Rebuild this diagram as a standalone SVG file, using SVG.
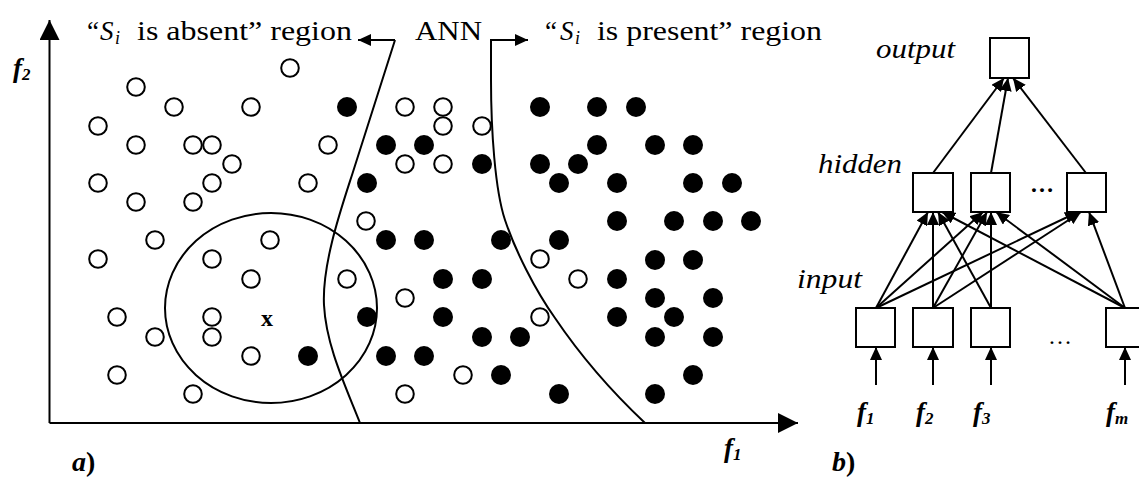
<svg xmlns="http://www.w3.org/2000/svg" width="1139" height="477" viewBox="0 0 1139 477">
<style>
text{font-family:"Liberation Serif","Times New Roman",serif;fill:#000}
.it{font-style:italic}
.bi{font-style:italic;font-weight:bold}
.o{fill:#fff;stroke:#000;stroke-width:2}
.f{fill:#000}
.ln{stroke:#000;stroke-width:2;fill:none}
.box{fill:#fff;stroke:#000;stroke-width:2}
</style>
<defs>
<marker id="ah" viewBox="0 0 13 12" refX="13" refY="6" markerWidth="13" markerHeight="12" markerUnits="userSpaceOnUse" orient="auto"><path d="M0,0 L13,6 L0,12 z" fill="#000"/></marker>
<marker id="big" viewBox="0 0 20 20" refX="20" refY="10" markerWidth="20" markerHeight="20" markerUnits="userSpaceOnUse" orient="auto"><path d="M0,0 L20,10 L0,20 z" fill="#000"/></marker>
</defs>
<rect width="1139" height="477" fill="#fff"/>

<g id="axes">
<line class="ln" x1="49.5" y1="423" x2="49.5" y2="20" marker-end="url(#big)"/>
<line class="ln" x1="49.5" y1="423" x2="798" y2="423" marker-end="url(#big)"/>
<text class="bi" x="13" y="77" font-size="27">f<tspan font-size="17" dy="3">2</tspan></text>
<text class="bi" x="724" y="457" font-size="27">f<tspan font-size="17" dy="3">1</tspan></text>
<text class="bi" x="72" y="471" font-size="28">a<tspan font-style="normal">)</tspan></text>
</g>

<g id="open-dots">
<circle class="o" r="8.8" cx="290" cy="68"/>
<circle class="o" r="8.8" cx="136" cy="87"/>
<circle class="o" r="8.8" cx="174" cy="107"/>
<circle class="o" r="8.8" cx="251" cy="107"/>
<circle class="o" r="8.8" cx="98" cy="126"/>
<circle class="o" r="8.8" cx="136" cy="145"/>
<circle class="o" r="8.8" cx="193" cy="145"/>
<circle class="o" r="8.8" cx="212" cy="145"/>
<circle class="o" r="8.8" cx="328" cy="145"/>
<circle class="o" r="8.8" cx="232" cy="164"/>
<circle class="o" r="8.8" cx="98" cy="183"/>
<circle class="o" r="8.8" cx="212" cy="183"/>
<circle class="o" r="8.8" cx="308" cy="183"/>
<circle class="o" r="8.8" cx="136" cy="202"/>
<circle class="o" r="8.8" cx="193" cy="202"/>
<circle class="o" r="8.8" cx="366" cy="221"/>
<circle class="o" r="8.8" cx="155" cy="240"/>
<circle class="o" r="8.8" cx="270" cy="240"/>
<circle class="o" r="8.8" cx="98" cy="259"/>
<circle class="o" r="8.8" cx="212" cy="259"/>
<circle class="o" r="8.8" cx="251" cy="279"/>
<circle class="o" r="8.8" cx="347" cy="279"/>
<circle class="o" r="8.8" cx="117" cy="317"/>
<circle class="o" r="8.8" cx="212" cy="317"/>
<circle class="o" r="8.8" cx="155" cy="337"/>
<circle class="o" r="8.8" cx="212" cy="337"/>
<circle class="o" r="8.8" cx="251" cy="356"/>
<circle class="o" r="8.8" cx="117" cy="375"/>
<circle class="o" r="8.8" cx="193" cy="394"/>
<circle class="o" r="8.8" cx="405" cy="107"/>
<circle class="o" r="8.8" cx="443" cy="107"/>
<circle class="o" r="8.8" cx="443" cy="126"/>
<circle class="o" r="8.8" cx="482" cy="126"/>
<circle class="o" r="8.8" cx="405" cy="164"/>
<circle class="o" r="8.8" cx="443" cy="164"/>
<circle class="o" r="8.8" cx="540" cy="259"/>
<circle class="o" r="8.8" cx="578" cy="279"/>
<circle class="o" r="8.8" cx="405" cy="298"/>
<circle class="o" r="8.8" cx="540" cy="317"/>
<circle class="o" r="8.8" cx="463" cy="375"/>
<circle class="o" r="8.8" cx="405" cy="394"/>
</g>

<g id="filled-dots" class="f">
<circle r="10" cx="347" cy="107"/>
<circle r="10" cx="386" cy="145"/>
<circle r="10" cx="424" cy="145"/>
<circle r="10" cx="482" cy="164"/>
<circle r="10" cx="367" cy="183"/>
<circle r="10" cx="386" cy="240"/>
<circle r="10" cx="424" cy="240"/>
<circle r="10" cx="501" cy="240"/>
<circle r="10" cx="559" cy="240"/>
<circle r="10" cx="443" cy="279"/>
<circle r="10" cx="482" cy="279"/>
<circle r="10" cx="367" cy="317"/>
<circle r="10" cx="443" cy="317"/>
<circle r="10" cx="482" cy="337"/>
<circle r="10" cx="520" cy="337"/>
<circle r="10" cx="386" cy="356"/>
<circle r="10" cx="424" cy="356"/>
<circle r="10" cx="308" cy="356"/>
<circle r="10" cx="501" cy="375"/>
<circle r="10" cx="559" cy="394"/>
<circle r="10" cx="540" cy="107"/>
<circle r="10" cx="597" cy="107"/>
<circle r="10" cx="636" cy="107"/>
<circle r="10" cx="597" cy="145"/>
<circle r="10" cx="655" cy="145"/>
<circle r="10" cx="693" cy="145"/>
<circle r="10" cx="540" cy="164"/>
<circle r="10" cx="578" cy="164"/>
<circle r="10" cx="559" cy="183"/>
<circle r="10" cx="617" cy="183"/>
<circle r="10" cx="693" cy="183"/>
<circle r="10" cx="732" cy="183"/>
<circle r="10" cx="617" cy="221"/>
<circle r="10" cx="674" cy="221"/>
<circle r="10" cx="713" cy="221"/>
<circle r="10" cx="751" cy="221"/>
<circle r="10" cx="655" cy="260"/>
<circle r="10" cx="693" cy="260"/>
<circle r="10" cx="617" cy="279"/>
<circle r="10" cx="655" cy="298"/>
<circle r="10" cx="713" cy="298"/>
<circle r="10" cx="617" cy="317"/>
<circle r="10" cx="674" cy="317"/>
<circle r="10" cx="655" cy="337"/>
<circle r="10" cx="713" cy="337"/>
<circle r="10" cx="693" cy="375"/>
<circle r="10" cx="655" cy="394"/>
</g>

<g id="neighbourhood">
<ellipse cx="271" cy="308" rx="106" ry="95" fill="none" stroke="#000" stroke-width="2"/>
<text x="267" y="326" font-size="24" font-weight="bold" text-anchor="middle">x</text>
</g>

<g id="boundaries">
<path class="ln" stroke-width="2.5" d="M395,40 L352,175 C340,212 322,265 324,305 C326,345 345,385 360,423"/>
<path class="ln" stroke-width="2.5" d="M491,40 V80 C491,130 495,190 505,220 C515,250 535,290 555,318 C580,355 610,390 645,423"/>
<line class="ln" x1="395" y1="40" x2="358" y2="40" marker-end="url(#ah)"/>
<line class="ln" x1="490" y1="40" x2="528" y2="40" marker-end="url(#ah)"/>
</g>

<g id="labels-top">
<text x="87" y="40" font-size="27">“</text>
<text class="it" x="100" y="40" font-size="27">S</text>
<text class="it" x="115" y="44" font-size="18">i</text>
<text x="137" y="40" font-size="27" textLength="215" lengthAdjust="spacingAndGlyphs">is absent” region</text>
<text x="415" y="40" font-size="27" textLength="67" lengthAdjust="spacingAndGlyphs">ANN</text>
<text x="545" y="40" font-size="27">“</text>
<text class="it" x="560" y="40" font-size="27">S</text>
<text class="it" x="575" y="44" font-size="18">i</text>
<text x="597" y="40" font-size="27" textLength="225" lengthAdjust="spacingAndGlyphs">is present” region</text>
</g>

<g id="connectors">
<line class="ln" x1="933" y1="173" x2="1004" y2="78" marker-end="url(#ah)"/>
<line class="ln" x1="991" y1="173" x2="1008" y2="78" marker-end="url(#ah)"/>
<line class="ln" x1="1086" y1="173" x2="1013" y2="78" marker-end="url(#ah)"/>
<line class="ln" x1="876" y1="308" x2="928" y2="212" marker-end="url(#ah)"/>
<line class="ln" x1="876" y1="308" x2="983" y2="212" marker-end="url(#ah)"/>
<line class="ln" x1="876" y1="308" x2="1078" y2="212" marker-end="url(#ah)"/>
<line class="ln" x1="933" y1="308" x2="933" y2="212" marker-end="url(#ah)"/>
<line class="ln" x1="933" y1="308" x2="987" y2="212" marker-end="url(#ah)"/>
<line class="ln" x1="933" y1="308" x2="1081" y2="212" marker-end="url(#ah)"/>
<line class="ln" x1="991" y1="308" x2="938" y2="212" marker-end="url(#ah)"/>
<line class="ln" x1="991" y1="308" x2="991" y2="212" marker-end="url(#ah)"/>
<line class="ln" x1="1125" y1="308" x2="942" y2="212" marker-end="url(#ah)"/>
<line class="ln" x1="1125" y1="308" x2="996" y2="212" marker-end="url(#ah)"/>
<line class="ln" x1="1125" y1="308" x2="1089" y2="212" marker-end="url(#ah)"/>
<line class="ln" x1="876" y1="385" x2="876" y2="347" marker-end="url(#ah)"/>
<line class="ln" x1="933" y1="385" x2="933" y2="347" marker-end="url(#ah)"/>
<line class="ln" x1="991" y1="385" x2="991" y2="347" marker-end="url(#ah)"/>
<line class="ln" x1="1125" y1="385" x2="1125" y2="347" marker-end="url(#ah)"/>
</g>

<g id="output-node">
<rect class="box" x="990" y="38" width="39" height="40"/>
<text class="it" x="876" y="58" font-size="28" textLength="79" lengthAdjust="spacingAndGlyphs">output</text>
</g>
<g id="hidden-1"><rect class="box" x="913" y="173" width="40" height="39"/></g>
<g id="hidden-2"><rect class="box" x="971" y="173" width="39" height="39"/></g>
<g id="hidden-3"><rect class="box" x="1067" y="173" width="39" height="39"/></g>
<g id="hidden-label">
<text class="it" x="818" y="173" font-size="28" textLength="84" lengthAdjust="spacingAndGlyphs">hidden</text>
<text x="1042" y="192" font-size="24" font-weight="bold" text-anchor="middle">…</text>
</g>
<g id="input-1"><rect class="box" x="856" y="308" width="39" height="39"/></g>
<g id="input-2"><rect class="box" x="913" y="308" width="40" height="39"/></g>
<g id="input-3"><rect class="box" x="971" y="308" width="39" height="39"/></g>
<g id="input-m"><rect class="box" x="1106" y="308" width="39" height="39"/></g>
<g id="input-labels">
<text class="it" x="797" y="288" font-size="28" textLength="65" lengthAdjust="spacingAndGlyphs">input</text>
<text x="1060" y="344" font-size="24" text-anchor="middle">…</text>
<text class="bi" x="857" y="421" font-size="27">f<tspan font-size="17" dy="3">1</tspan></text>
<text class="bi" x="916" y="421" font-size="27">f<tspan font-size="17" dy="3">2</tspan></text>
<text class="bi" x="973" y="421" font-size="27">f<tspan font-size="17" dy="3">3</tspan></text>
<text class="bi" x="1106" y="421" font-size="27">f<tspan font-size="17" dy="3">m</tspan></text>
<text class="bi" x="832" y="471" font-size="28">b<tspan font-style="normal">)</tspan></text>
</g>
</svg>
